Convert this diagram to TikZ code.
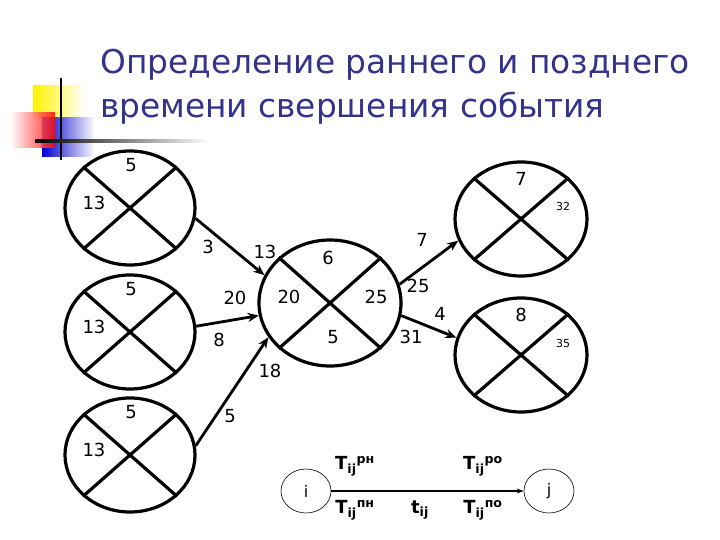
\documentclass[tikz,border=0pt]{standalone}
\usepackage{fontspec}
\setmainfont{DejaVu Sans}
\usetikzlibrary{arrows.meta,shapes.geometric,calc}
\definecolor{ttl}{RGB}{51,51,140}
\begin{document}
\begin{tikzpicture}[x=1pt,y=-1pt,
  ev/.style={ellipse,draw,line width=3.2pt,inner sep=0},
  cr/.style={line width=3.2pt},
  lab/.style={font=\fontsize{18}{18}\selectfont,inner sep=0},
  sm/.style={font=\fontsize{11}{11}\selectfont,inner sep=0},
  arr/.style={line width=2.8pt,-{Stealth[length=11pt,width=9pt]}},
  bt/.style={font=\bfseries\fontsize{18}{18}\selectfont,inner sep=0},
  small/.style={ellipse,draw,line width=0.6pt,minimum width=50pt,minimum height=44pt,inner sep=0,font=\fontsize{16}{16}\selectfont}]
\useasboundingbox (0,0) rectangle (720,540);
% decoration
\shade[left color=yellow!90!orange,right color=white] (33,86) rectangle (85,118);
\shade[left color=blue!80!black,right color=white] (42,118) rectangle (95,157);
\shade[right color=red,left color=white,opacity=0.85] (10,113) rectangle (55,148);
\draw[line width=1.5pt] (61,78) -- (61,160);
\shade[left color=black,right color=white] (35,140) rectangle (210,142.5);
% title
\node[anchor=west,text=ttl,font=\fontsize{32.8}{33}\selectfont,inner sep=0] (t1) at (100,65) {Определение раннего и позднего};
\node[anchor=west,text=ttl,font=\fontsize{32.8}{33}\selectfont,inner sep=0] (t2) at (100,108) {времени свершения события};
% events
\node[ev,minimum width=130pt,minimum height=114pt] (A) at (130,208) {};
\node[ev,minimum width=130pt,minimum height=114pt] (B) at (130,332) {};
\node[ev,minimum width=130pt,minimum height=114pt] (C) at (130,455) {};
\node[ev,minimum width=142pt,minimum height=126pt] (D) at (330,303) {};
\node[ev,minimum width=132pt,minimum height=114pt] (E) at (521,219) {};
\node[ev,minimum width=132pt,minimum height=114pt] (F) at (521,355) {};
\foreach \n in {A,B,C,D,E,F}{
  \draw[cr] (\n.north west) -- (\n.south east);
  \draw[cr] (\n.north east) -- (\n.south west);
}
% inner labels
\foreach \n in {A,B,C}{
  \node[lab] at ($(\n)+(1,-43)$) {5};
  \node[lab] at ($(\n)+(-36,-5)$) {13};
}
\node[lab] (d1) at (328,258) {6};
\node[lab] (d2) at (289,297) {20};
\node[lab] (d3) at (376,297) {25};
\node[lab] (d4) at (333,337) {5};
\node[lab] (e1) at (521,179) {7};
\node[sm] (e2) at (563,206) {32};
\node[lab] (f1) at (521,315) {8};
\node[sm] (f2) at (563,343) {35};
% arrows
\draw[arr] (A.-9) -- (D.157);
\draw[arr] (B.5) -- (D.190);
\draw[arr] (C.8) -- (D.209);
\draw[arr] (D.15) -- (E.199);
\draw[arr] (D.-10) -- (F.165);
% arrow labels
\node[lab] at (208,247) {3};
\node[lab] at (265,252) {13};
\node[lab] at (235,298) {20};
\node[lab] at (219,340) {8};
\node[lab] at (270,371) {18};
\node[lab] at (230,416) {5};
\node[lab] at (422,240) {7};
\node[lab] at (418,286) {25};
\node[lab] at (440,314) {4};
\node[lab] at (411,337) {31};
% legend
\node[small] (i) at (306,491) {i};
\node[small] (j) at (549,491) {j};
\draw[line width=1.4pt,-{Stealth[length=7pt,width=5pt]}] (i) -- (j);
\node[bt] at (355,466) {T\textsubscript{ij}\textsuperscript{рн}};
\node[bt] at (483,466) {T\textsubscript{ij}\textsuperscript{ро}};
\node[bt] at (355,510) {T\textsubscript{ij}\textsuperscript{пн}};
\node[bt] at (420,510) {t\textsubscript{ij}};
\node[bt] at (483,510) {T\textsubscript{ij}\textsuperscript{по}};
\end{tikzpicture}
\end{document}
